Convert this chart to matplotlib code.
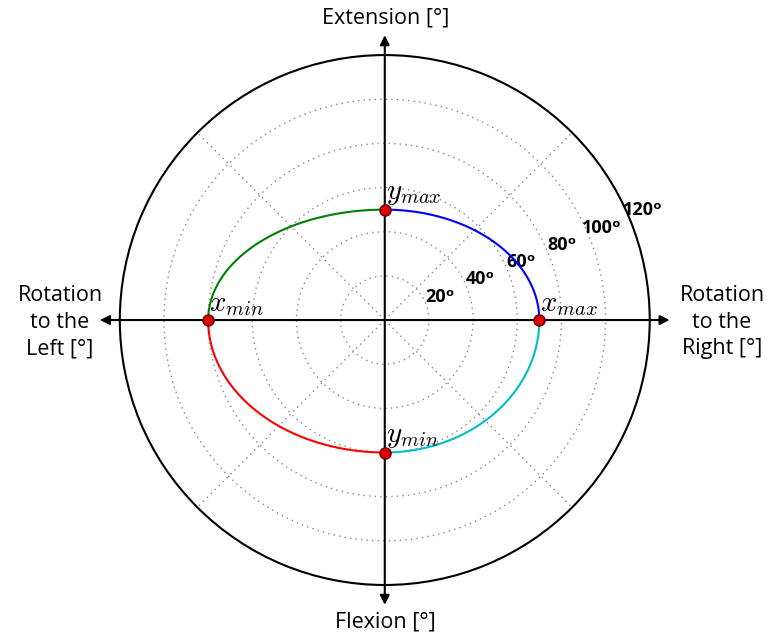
import numpy as np
import matplotlib.pyplot as plt

plt.rcParams['mathtext.fontset'] = 'cm'

# range of motion limits per direction [deg]
x_max = 70   # rotation to the right
y_max = 50   # extension
x_min = 80   # rotation to the left
y_min = 60   # flexion

ring_values = [20, 40, 60, 80, 100, 120]
r_lim = 120

# one quarter ellipse per quadrant: (semi-axis x, semi-axis y, start, stop, colour)
quadrants = [
    (x_max, y_max, 0.0, 0.5 * np.pi, 'b'),
    (x_min, y_max, 0.5 * np.pi, np.pi, 'g'),
    (x_min, y_min, np.pi, 1.5 * np.pi, 'r'),
    (x_max, y_min, 1.5 * np.pi, 2 * np.pi, 'c'),
]

fig = plt.figure(figsize=(7.68, 6.37), dpi=100)
ax = fig.add_axes([0.156, 0.0816, 0.690, 0.832], projection='polar')
ax.set_ylim(0, r_lim)
ax.set_yticks(ring_values[:-1])
ax.set_yticklabels([])
ax.set_xticks(np.deg2rad([45, 135, 225, 315]))
ax.set_xticklabels([])
ax.grid(True, color='#888888', linestyle=(0, (1, 3)), linewidth=1.0)
ax.spines['polar'].set_linewidth(1.5)
ax.spines['polar'].set_color('black')

# horizontal and vertical axes with arrow heads
tip = 129
for th in (0, 0.5 * np.pi):
    ax.annotate('', xy=(th, tip), xytext=(th + np.pi, tip),
                arrowprops=dict(arrowstyle='<|-|>', color='black', lw=1.5,
                                mutation_scale=14, shrinkA=0, shrinkB=0),
                annotation_clip=False)

for a, b, t0, t1, col in quadrants:
    t = np.linspace(t0, t1, 200)
    xs = a * np.cos(t)
    ys = b * np.sin(t)
    ax.plot(np.arctan2(ys, xs), np.hypot(xs, ys), color=col, lw=1.5, zorder=4)

# extreme points
pts = [(0.0, x_max, r'$x_{max}$'), (0.5 * np.pi, y_max, r'$y_{max}$'),
       (np.pi, x_min, r'$x_{min}$'), (1.5 * np.pi, y_min, r'$y_{min}$')]
for th, r, lab in pts:
    ax.plot(th, r, 'o', color='#dd0000', mec='#660000', mew=1, ms=8, zorder=5)
    x, y = r * np.cos(th), r * np.sin(th)
    lx, ly = x + 0.5, y + 1
    ax.text(np.arctan2(ly, lx), np.hypot(lx, ly), lab, fontsize=21,
            ha='left', va='bottom', zorder=6)

# ring labels
for v in ring_values:
    ax.text(np.deg2rad(23), v + 7, '%dᵒ' % v, fontsize=13,
            fontweight='bold', family=['Open Sans', 'DejaVu Sans'],
            ha='center', va='center')

lab_font = dict(family='Open Sans', fontsize=15.5)
fig.text(386 / 768, 1 - 18 / 637, 'Extension [°]', ha='center', va='center', **lab_font)
fig.text(385 / 768, 1 - 622 / 637, 'Flexion [°]', ha='center', va='center', **lab_font)
fig.text(60 / 768, 1 - 322 / 637, 'Rotation\nto the\nLeft [°]', ha='center', va='center',
         linespacing=1.35, **lab_font)
fig.text(722 / 768, 1 - 322 / 637, 'Rotation\nto the\nRight [°]', ha='center', va='center',
         linespacing=1.35, **lab_font)

fig.savefig('out.png', dpi=100)
